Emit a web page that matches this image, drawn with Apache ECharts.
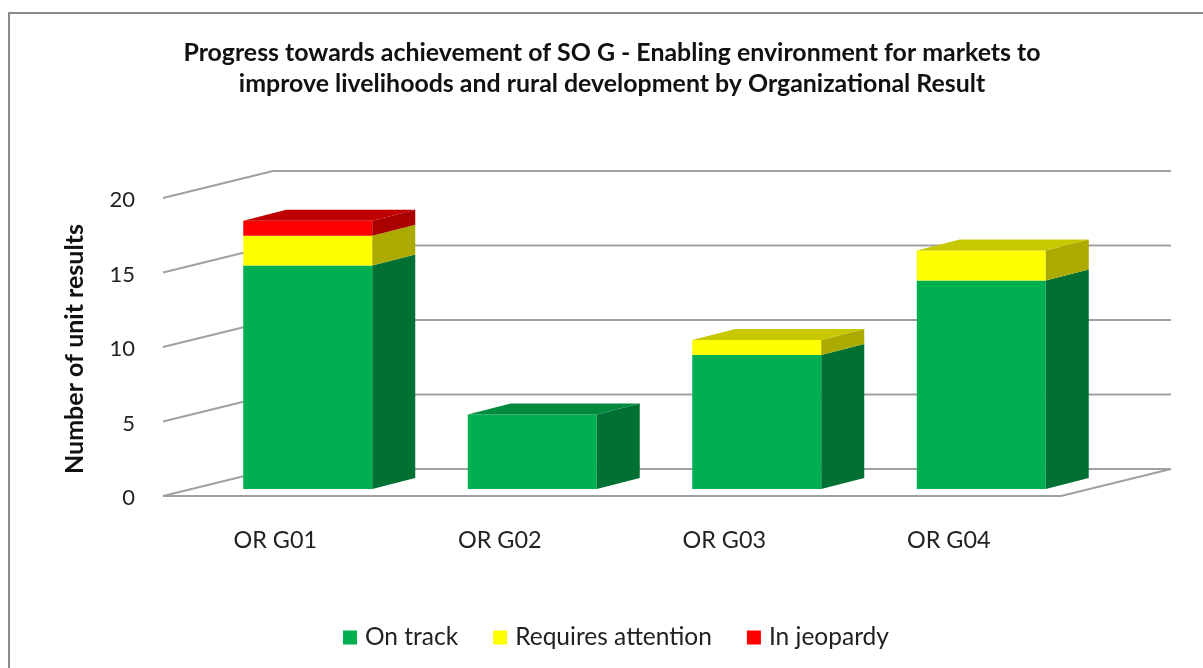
<!DOCTYPE html>
<html><head><meta charset="utf-8">
<style>html,body{margin:0;padding:0;background:#fff}#c{width:1203px;height:668px}</style>
<script src="https://cdn.jsdelivr.net/npm/echarts@6/dist/echarts.min.js"></script>
</head><body><div id="c"></div>
<script>
const categories = ['OR G01','OR G02','OR G03','OR G04'];
const onTrack = [15,5,9,14];
const requiresAttention = [2,0,1,2];
const inJeopardy = [1,0,0,0];
const yTicks = [0,5,10,15,20];
const FONT = 'Lato';
const DX = 110, DY = -27;      // floor depth
const BAR_DX = 43, BAR_DY = -11, BAR_OX = 32.5, BAR_OY = -7, BAR_W = 129;

const chart = echarts.init(document.getElementById('c'), null, {renderer:'canvas'});

function wallItem(params, api){
  const v = api.value(0);
  const y = api.coord([0, v])[1];
  const cs = params.coordSys;
  const x0 = cs.x, x1 = cs.x + cs.width;
  const style = {stroke:'#A0A0A0', lineWidth:2, fill:null};
  const kids = [{type:'polyline', shape:{points:[[x0,y],[x0+DX,y+DY],[x1+DX,y+DY]]}, style}];
  if (v === 0) {
    kids.push({type:'polyline', shape:{points:[[x0,y],[x1,y],[x1+DX,y+DY]]}, style});
  }
  return {type:'group', children:kids};
}

function barItem(front, side, top){
  return function(params, api){
    const i = api.value(0), from = api.value(1), to = api.value(2), isTop = api.value(3);
    if (to <= from) return null;
    const c0 = api.coord([i, from]), c1 = api.coord([i, to]);
    const xl = c0[0] + BAR_OX - BAR_W/2, xr = xl + BAR_W;
    const yb = c0[1] + BAR_OY, yt = c1[1] + BAR_OY;
    const kids = [
      {type:'rect', shape:{x:xl,y:yt,width:BAR_W,height:yb-yt}, style:{fill:front}},
      {type:'polygon', shape:{points:[[xr,yb],[xr+BAR_DX,yb+BAR_DY],[xr+BAR_DX,yt+BAR_DY],[xr,yt]]}, style:{fill:side}}
    ];
    if (isTop) kids.push({type:'polygon', shape:{points:[[xl,yt],[xl+BAR_DX,yt+BAR_DY],[xr+BAR_DX,yt+BAR_DY],[xr,yt]]}, style:{fill:top}});
    return {type:'group', children:kids};
  };
}

const stacks = [onTrack, requiresAttention, inJeopardy];
function rows(k){
  return categories.map((_, i) => {
    let from = 0;
    for (let j = 0; j < k; j++) from += stacks[j][i];
    const to = from + stacks[k][i];
    let isTop = stacks[k][i] > 0 ? 1 : 0;
    for (let j = k + 1; j < stacks.length; j++) if (stacks[j][i] > 0) isTop = 0;
    return [i, from, to, isTop];
  });
}

chart.setOption({
  animation:false,
  backgroundColor:'#fff',
  textStyle:{fontFamily:FONT},
  title:{
    text:'Progress towards achievement of SO G - Enabling environment for markets to\nimprove livelihoods and rural development by Organizational Result',
    left:607, top:32, textAlign:'center',
    textStyle:{fontFamily:FONT,fontWeight:'bold',fontSize:24.9,lineHeight:31,color:'#111'}
  },
  legend:{
    left:338, top:620, itemWidth:14, itemHeight:14, itemGap:35, icon:'rect',
    textStyle:{fontFamily:FONT,fontSize:24.5,color:'#222',padding:[0,0,0,3]},
    data:['On track','Requires attention','In jeopardy']
  },
  grid:{left:163, top:198, width:898, height:298, containLabel:false},
  xAxis:{type:'category', data:categories,
    axisLine:{show:false}, axisTick:{show:false},
    axisLabel:{fontFamily:FONT,fontSize:23.4,color:'#222',margin:33}},
  yAxis:{type:'value', min:0, max:20, interval:5,
    axisLine:{show:false}, axisTick:{show:false}, splitLine:{show:false},
    axisLabel:{margin:28,formatter:'{t|{value}}',
      rich:{t:{fontFamily:FONT,fontSize:22,color:'#222',padding:[4,0,0,0]}}},
    name:'Number of unit results', nameLocation:'middle', nameRotate:90, nameGap:76,
    nameTextStyle:{fontFamily:FONT,fontWeight:'bold',fontSize:25,color:'#111',padding:[0,4,0,0]}},
  graphic:[{type:'rect', silent:true, z:-1, shape:{x:9,y:13,width:1240,height:700},
    style:{fill:'#fff',stroke:'#8C8C8C',lineWidth:2}}],
  series:[
    {type:'custom', name:'wall', silent:true, z:1, renderItem:wallItem, encode:{y:0},
     data:yTicks.map(v=>[v])},
    {type:'custom', name:'On track', z:2, itemStyle:{color:'#00B050'},
     renderItem:barItem('#00B050','#007033','#008A3E'), encode:{x:0,y:2}, data:rows(0)},
    {type:'custom', name:'Requires attention', z:2, itemStyle:{color:'#FFFF00'},
     renderItem:barItem('#FFFF00','#AAAA00','#C8C800'), encode:{x:0,y:2}, data:rows(1)},
    {type:'custom', name:'In jeopardy', z:2, itemStyle:{color:'#FF0000'},
     renderItem:barItem('#FF0000','#AA0000','#C00000'), encode:{x:0,y:2}, data:rows(2)}
  ]
});
</script></body></html>
